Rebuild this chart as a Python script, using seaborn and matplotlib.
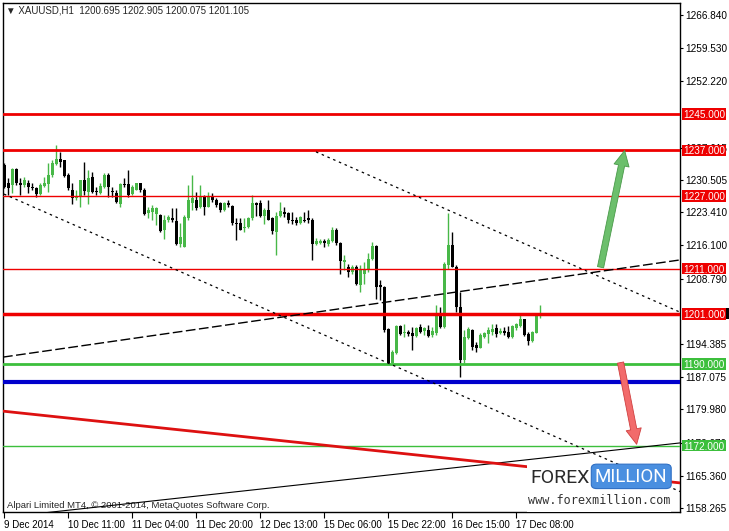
import numpy as np
import pandas as pd
import matplotlib
matplotlib.use("Agg")
import matplotlib.pyplot as plt
from matplotlib.patches import Rectangle, FancyBboxPatch
import matplotlib.transforms as mtransforms
import seaborn as sns

sns.set_theme(style="white")
plt.rcParams['font.family'] = ['Liberation Sans', 'DejaVu Sans']

# hourly XAUUSD candles, 9 Dec 19:00 .. 17 Dec 14:00
opens = [1233.8, 1229.8, 1229.4, 1232.9, 1229.8, 1229.4, 1229.9, 1229.0, 1228.7, 1227.4,
         1229.2, 1229.6, 1231.6, 1234.0, 1235.1, 1234.8, 1231.7, 1228.4, 1226.5, 1226.7,
         1230.4, 1227.9, 1231.1, 1228.1, 1227.6, 1229.0, 1231.7, 1228.1, 1227.7, 1225.2,
         1229.6, 1229.6, 1227.4, 1228.4, 1229.8, 1228.3, 1223.3, 1223.5, 1223.0, 1222.8,
         1219.5, 1221.7, 1222.1, 1221.5, 1216.5, 1215.8, 1222.1, 1225.4, 1226.2, 1224.6,
         1226.8, 1224.6, 1226.7, 1226.2, 1225.5, 1224.0, 1225.4, 1224.8, 1221.1, 1221.0,
         1219.9, 1220.1, 1222.1, 1225.4, 1225.4, 1222.6, 1224.0, 1222.1, 1219.1, 1222.6,
         1223.5, 1223.2, 1221.8, 1221.8, 1221.1, 1221.8, 1222.1, 1221.8, 1216.5, 1216.7,
         1217.1, 1216.4, 1217.1, 1219.5, 1216.7, 1212.5, 1211.4, 1210.3, 1211.4, 1207.4,
         1209.9, 1210.8, 1213.0, 1216.0, 1207.4, 1207.0, 1197.7, 1190.3, 1192.5, 1198.3,
         1196.7, 1197.1, 1196.7, 1196.1, 1198.2, 1197.3, 1197.5, 1196.4, 1196.7, 1201.1,
         1198.2, 1211.8, 1216.2, 1211.4, 1202.6, 1190.9, 1195.8, 1197.5, 1194.2, 1193.6,
         1196.0, 1196.6, 1197.1, 1198.0, 1196.9, 1197.3, 1197.1, 1196.0, 1198.0, 1198.3,
         1199.8, 1196.6, 1195.1, 1196.9, 1200.695]
highs = [1234.2, 1230.9, 1233.1, 1233.1, 1230.9, 1231.1, 1230.5, 1229.8, 1229.0, 1229.8,
         1231.1, 1234.2, 1234.9, 1238.2, 1236.7, 1234.9, 1232.0, 1229.8, 1228.3, 1230.6,
         1234.5, 1232.7, 1232.3, 1229.0, 1229.8, 1232.0, 1232.0, 1229.0, 1228.3, 1229.9,
         1230.9, 1232.7, 1229.4, 1229.9, 1229.9, 1228.7, 1224.6, 1225.0, 1224.6, 1223.0,
         1222.8, 1222.8, 1224.3, 1224.3, 1221.0, 1222.8, 1229.4, 1231.6, 1227.9, 1229.4,
         1227.2, 1227.9, 1227.6, 1226.5, 1225.7, 1225.7, 1226.2, 1225.0, 1222.1, 1222.1,
         1222.1, 1222.4, 1227.2, 1225.7, 1226.0, 1224.3, 1226.0, 1222.4, 1223.5, 1225.7,
         1224.5, 1223.5, 1223.5, 1222.4, 1222.6, 1223.5, 1223.9, 1222.1, 1217.7, 1217.4,
         1217.4, 1217.7, 1220.1, 1219.9, 1216.9, 1214.0, 1212.1, 1211.8, 1211.8, 1211.8,
         1212.5, 1214.35, 1216.9, 1216.2, 1208.5, 1207.2, 1197.8, 1193.1, 1198.6, 1198.6,
         1198.9, 1197.5, 1198.2, 1198.2, 1198.9, 1198.2, 1198.6, 1198.2, 1203.0, 1202.6,
         1212.5, 1223.3, 1219.1, 1211.8, 1205.9, 1197.5, 1198.2, 1197.6, 1194.9, 1196.7,
         1197.1, 1198.2, 1198.8, 1198.9, 1197.8, 1198.2, 1198.3, 1198.6, 1199.1, 1201.3,
         1200.0, 1197.1, 1197.3, 1201.1, 1202.905]
lows = [1228.7, 1227.2, 1227.6, 1229.4, 1227.2, 1229.0, 1227.6, 1228.3, 1226.7, 1227.2,
        1229.0, 1227.9, 1231.2, 1233.8, 1233.4, 1231.2, 1228.4, 1225.2, 1226.2, 1224.6,
        1227.2, 1225.2, 1227.6, 1227.2, 1227.4, 1228.7, 1226.8, 1226.8, 1225.4, 1224.6,
        1229.0, 1226.8, 1227.2, 1228.3, 1227.9, 1222.8, 1222.1, 1221.7, 1220.6, 1219.1,
        1217.6, 1221.3, 1221.3, 1216.2, 1215.7, 1215.7, 1221.7, 1223.9, 1223.9, 1224.3,
        1222.8, 1224.5, 1225.7, 1224.6, 1223.5, 1223.7, 1224.6, 1220.6, 1217.3, 1219.5,
        1219.1, 1219.9, 1221.7, 1222.6, 1222.4, 1220.8, 1221.7, 1218.6, 1214.0, 1222.4,
        1222.4, 1221.0, 1220.8, 1220.6, 1220.8, 1221.3, 1221.1, 1212.9, 1216.2, 1216.4,
        1215.7, 1216.0, 1216.9, 1216.2, 1209.8, 1210.7, 1209.2, 1209.9, 1207.4, 1205.9,
        1207.7, 1210.3, 1212.9, 1204.4, 1204.1, 1197.1, 1190.1, 1190.1, 1192.2, 1196.4,
        1196.0, 1196.1, 1193.1, 1196.0, 1196.7, 1196.4, 1196.0, 1196.0, 1196.4, 1198.0,
        1198.0, 1211.0, 1211.3, 1201.5, 1187.2, 1190.1, 1195.4, 1193.1, 1192.7, 1193.4,
        1195.6, 1194.7, 1196.4, 1196.0, 1196.6, 1196.4, 1195.8, 1195.8, 1197.5, 1198.2,
        1196.1, 1194.2, 1194.9, 1196.7, 1200.075]
closes = [1229.0, 1228.7, 1232.9, 1229.8, 1229.4, 1230.6, 1229.0, 1228.7, 1227.4, 1229.4,
          1229.9, 1231.6, 1234.3, 1235.1, 1234.5, 1231.4, 1228.7, 1226.5, 1227.0, 1230.4,
          1228.1, 1230.9, 1227.9, 1227.8, 1229.2, 1231.6, 1229.0, 1227.8, 1225.7, 1229.6,
          1229.3, 1227.2, 1229.0, 1229.8, 1228.3, 1223.0, 1224.0, 1224.3, 1224.3, 1219.3,
          1221.7, 1222.4, 1221.7, 1216.5, 1218.0, 1222.4, 1226.1, 1226.5, 1224.3, 1226.8,
          1224.6, 1227.0, 1226.1, 1225.0, 1224.0, 1225.4, 1225.0, 1221.0, 1220.8, 1219.6,
          1220.2, 1222.1, 1225.4, 1225.0, 1222.6, 1224.0, 1221.8, 1219.3, 1222.6, 1223.7,
          1223.0, 1221.7, 1221.5, 1221.1, 1222.3, 1221.5, 1221.7, 1216.4, 1217.1, 1217.1,
          1216.7, 1217.3, 1219.6, 1216.7, 1212.7, 1212.9, 1210.3, 1211.4, 1207.7, 1210.7,
          1210.7, 1213.1, 1216.0, 1207.0, 1206.9, 1197.5, 1190.3, 1192.7, 1198.3, 1196.6,
          1197.1, 1196.6, 1196.1, 1197.8, 1197.1, 1197.8, 1196.1, 1197.3, 1201.1, 1198.2,
          1212.0, 1216.2, 1211.4, 1202.6, 1190.9, 1196.0, 1197.6, 1193.8, 1193.6, 1196.4,
          1196.9, 1197.5, 1197.6, 1196.6, 1197.3, 1196.7, 1196.0, 1198.3, 1198.8, 1199.8,
          1196.4, 1195.1, 1197.1, 1200.8, 1201.105]

time_ticks = [0, 16, 32, 48, 64, 80, 96, 112, 128]
time_labels = ['9 Dec 2014', '10 Dec 11:00', '11 Dec 04:00', '11 Dec 20:00', '12 Dec 13:00',
               '15 Dec 06:00', '15 Dec 22:00', '16 Dec 15:00', '17 Dec 08:00']
price_ticks = [1266.840, 1259.530, 1252.220, 1237.615, 1230.505, 1223.410, 1216.100,
               1208.790, 1194.385, 1187.075, 1179.980, 1172.670, 1165.360, 1158.265]

# support / resistance levels
levels = [1245.0, 1237.0, 1227.0, 1211.0, 1201.0, 1190.0, 1172.0]
level_kind = ['red', 'red', 'red', 'red', 'red', 'green', 'green']
level_width = [2, 2, 1, 1, 2.5, 2, 1]
blue_level = 1186.0
bid_price = 1201.105

# trend lines: (bar, price) end points
chan_low_x, chan_low_y = [0, 169], [1227.4, 1161.9]
chan_high_x, chan_high_y = [78, 169], [1236.7, 1201.4]
rise_dash_x, rise_dash_y = [-0.25, 169], [1191.5, 1212.9]
rise_solid_x, rise_solid_y = [-0.25, 169], [1156.2, 1172.6]
fall_red_x, fall_red_y = [-0.25, 169], [1179.6, 1163.8]

up_arrow = [(149, 1210.7), (155.3, 1237.6)]
down_arrow = [(154, 1190.9), (158.3, 1171.7)]

RED = '#ee0000'
GREEN = '#3cbf3c'
CANDLE_GREEN = '#48b848'
FS = 7.2

df = pd.DataFrame({'open': opens, 'high': highs, 'low': lows, 'close': closes})
df['bar'] = np.arange(len(df))
df['up'] = df['close'] > df['open']

fig = plt.figure(figsize=(7.29, 5.31), dpi=100)
ax = fig.add_axes([3 / 729, 19 / 531, 677 / 729, 509 / 531])
ax.set_facecolor('white')

cols = np.where(df['up'], CANDLE_GREEN, 'black')
ax.vlines(df['bar'], df['low'], df['high'], colors=cols, lw=1, zorder=3)
body_lo = df[['open', 'close']].min(axis=1)
body_h = (df['close'] - df['open']).abs().clip(lower=0.25)
ax.bar(df['bar'], body_h, bottom=body_lo, width=0.75, color=cols, lw=0, zorder=4)

# horizontal levels
for lv, kind, w in zip(levels, level_kind, level_width):
    ax.axhline(lv, color=RED if kind == 'red' else GREEN, lw=w, zorder=5)
ax.axhline(blue_level, color='#0000cc', lw=3, zorder=5)

# trend lines
sns.lineplot(x=chan_low_x, y=chan_low_y, ax=ax, color='black', lw=0.9,
             linestyle=(0, (2, 3)), zorder=5)
sns.lineplot(x=chan_high_x, y=chan_high_y, ax=ax, color='black', lw=0.9,
             linestyle=(0, (2, 3)), zorder=5)
sns.lineplot(x=rise_dash_x, y=rise_dash_y, ax=ax, color='black', lw=1,
             linestyle=(0, (7, 2.5)), zorder=5)
sns.lineplot(x=rise_solid_x, y=rise_solid_y, ax=ax, color='black', lw=0.8, zorder=5)
sns.lineplot(x=fall_red_x, y=fall_red_y, ax=ax, color='#dd1111', lw=2, zorder=5)

# arrows
ax.annotate('', xy=up_arrow[1], xytext=up_arrow[0],
            arrowprops=dict(arrowstyle='simple,head_length=1.1,head_width=1.1,tail_width=0.45',
                            mutation_scale=10, fc='#6cbf6c', ec='#4a9a4a', lw=0.6), zorder=7)
ax.annotate('', xy=down_arrow[1], xytext=down_arrow[0],
            arrowprops=dict(arrowstyle='simple,head_length=1.1,head_width=1.1,tail_width=0.45',
                            mutation_scale=10, fc='#f26b6b', ec='#d04040', lw=0.6), zorder=7)

ax.set_xlim(-0.25, 169)
ax.set_ylim(1157.39, 1269.48)

ax.set_xticks(time_ticks)
ax.set_xticklabels(time_labels)
for lbl in ax.get_xticklabels():
    lbl.set_horizontalalignment('left')
ax.set_yticks(price_ticks)
ax.set_yticklabels(['%.3f' % p for p in price_ticks])
ax.yaxis.tick_right()
ax.tick_params(axis='x', length=4, width=0.8, pad=1.5, labelsize=7, colors='black', bottom=True)
ax.tick_params(axis='y', length=2.5, width=0.8, pad=1, labelsize=FS, colors='black', right=True)
for s in ax.spines.values():
    s.set_color('black')
    s.set_linewidth(1)

# level labels on the price scale
trans = mtransforms.blended_transform_factory(ax.transAxes, ax.transData)
box_h = 2.5
ax.add_patch(Rectangle((1.003, bid_price - box_h / 2), 0.0695, box_h, transform=trans,
                       fc='black', ec='none', clip_on=False, zorder=9))
for lv, kind in zip(levels, level_kind):
    ax.add_patch(Rectangle((1.003, lv - box_h / 2), 0.0655, box_h, transform=trans,
                           fc=RED if kind == 'red' else GREEN, ec='none',
                           clip_on=False, zorder=9))
    ax.text(1.036, lv, '%.3f' % lv, transform=trans, ha='center', va='center_baseline',
            fontsize=FS, color='white', zorder=10, clip_on=False)

# header and footer texts
ax.text(0.004, 0.985, '\u25bc XAUUSD,H1  1200.695 1202.905 1200.075 1201.105',
        transform=ax.transAxes, fontsize=7, va='center', ha='left', zorder=10,
        family=['Liberation Sans', 'DejaVu Sans'])
ax.text(0.006, 0.013, 'Alpari Limited MT4, \u00a9 2001-2014, MetaQuotes Software Corp.',
        transform=ax.transAxes, fontsize=6.8, va='center', ha='left', zorder=4)

# watermark
ax.add_patch(Rectangle((0.774, 0), 0.213, 0.094, transform=ax.transAxes,
                       fc='white', ec='none', zorder=8))
ax.text(0.779, 0.066, 'FOREX', transform=ax.transAxes, fontsize=14, color='#2a2a2a',
        family=['Liberation Sans Narrow', 'Roboto'], va='center', ha='left', zorder=9)
ax.add_patch(FancyBboxPatch((0.872, 0.049), 0.112, 0.042, transform=ax.transAxes,
                            boxstyle='round,pad=0.003,rounding_size=0.008',
                            fc='#4a8fe0', ec='#2f6fc4', lw=0.8, zorder=9))
ax.text(0.928, 0.069, 'MILLION', transform=ax.transAxes, fontsize=13.5, color='white',
        family=['Liberation Sans Narrow', 'Roboto'], va='center', ha='center', zorder=10)
ax.text(0.880, 0.022, 'www.forexmillion.com', transform=ax.transAxes, fontsize=8.5,
        color='#333333', family=['DejaVu Sans Mono'], va='center', ha='center', zorder=9)

fig.savefig('out.png', dpi=100, facecolor='white')
